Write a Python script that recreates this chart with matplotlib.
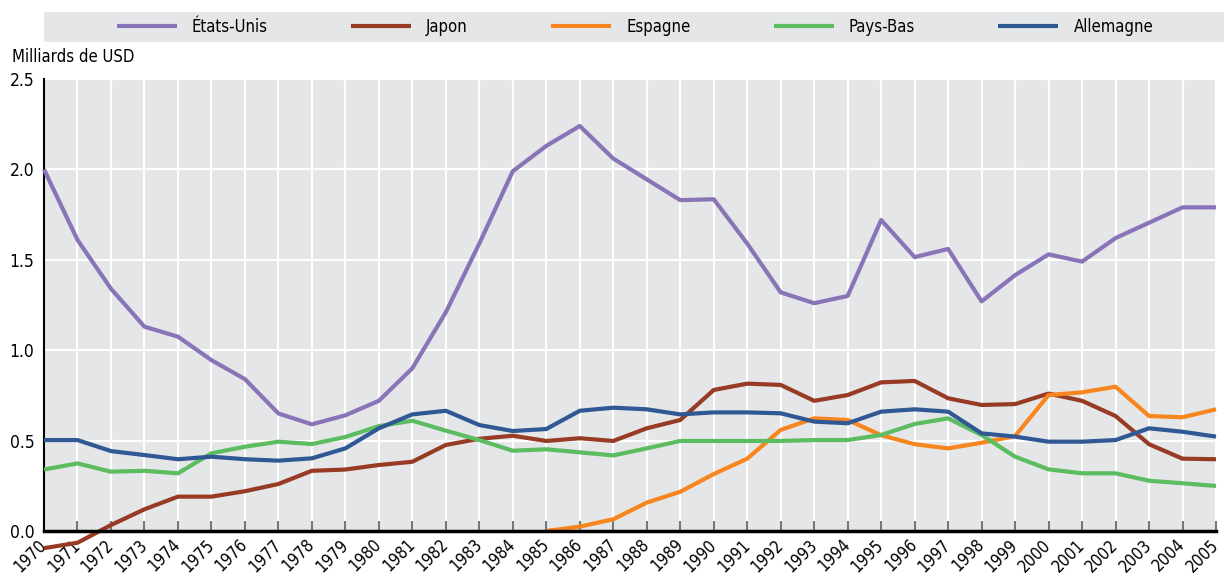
import matplotlib
matplotlib.use('Agg')
import matplotlib.pyplot as plt
from matplotlib.patches import Rectangle
from matplotlib import font_manager
from matplotlib.transforms import ScaledTranslation

# police étroite si disponible
prop = font_manager.FontProperties(family='DejaVu Sans', stretch='condensed')
path = font_manager.findfont(prop, fallback_to_default=True)
if 'Condensed' in path:
    plt.rcParams['font.family'] = ['DejaVu Sans']
    plt.rcParams['font.stretch'] = 'condensed'
else:
    plt.rcParams['font.family'] = ['Liberation Sans', 'DejaVu Sans']

years = list(range(1970, 2006))

usa = [2.00, 1.61, 1.34, 1.13, 1.075, 0.945, 0.84, 0.65, 0.59, 0.64,
       0.72, 0.90, 1.21, 1.59, 1.99, 2.13, 2.24, 2.06, 1.945, 1.83,
       1.835, 1.59, 1.32, 1.26, 1.30, 1.72, 1.515, 1.56, 1.27, 1.415,
       1.53, 1.49, 1.62, 1.705, 1.79, 1.79]
japon = [-0.095, -0.065, 0.033, 0.12, 0.19, 0.19, 0.22, 0.26, 0.333, 0.34,
         0.365, 0.383, 0.476, 0.51, 0.527, 0.498, 0.513, 0.498, 0.568, 0.614,
         0.78, 0.815, 0.808, 0.72, 0.752, 0.822, 0.83, 0.734, 0.697, 0.702,
         0.76, 0.72, 0.636, 0.48, 0.40, 0.397]
# Espagne commence en 1985
espagne_years = list(range(1985, 2006))
espagne = [0.0, 0.024, 0.065, 0.157, 0.217, 0.315, 0.40, 0.559, 0.623, 0.614,
           0.53, 0.48, 0.457, 0.488, 0.525, 0.752, 0.767, 0.798, 0.636, 0.629,
           0.673]
paysbas = [0.34, 0.374, 0.328, 0.333, 0.319, 0.43, 0.466, 0.494, 0.481, 0.52,
           0.58, 0.61, 0.555, 0.503, 0.444, 0.452, 0.435, 0.418, 0.457, 0.498,
           0.498, 0.498, 0.498, 0.503, 0.503, 0.531, 0.592, 0.623, 0.531, 0.411,
           0.341, 0.319, 0.319, 0.278, 0.264, 0.249]
allemagne = [0.503, 0.503, 0.442, 0.42, 0.397, 0.411, 0.397, 0.389, 0.402, 0.457,
             0.568, 0.645, 0.665, 0.586, 0.553, 0.564, 0.665, 0.682, 0.673, 0.645,
             0.656, 0.656, 0.651, 0.605, 0.596, 0.66, 0.673, 0.66, 0.54, 0.522,
             0.494, 0.494, 0.503, 0.568, 0.549, 0.522]

series = [
    ('États-Unis', years, usa, '#8A74B8'),
    ('Japon', years, japon, '#983B24'),
    ('Espagne', espagne_years, espagne, '#F7861E'),
    ('Pays-Bas', years, paysbas, '#5BBD5F'),
    ('Allemagne', years, allemagne, '#2F5895'),
]

bg = '#E5E6E8'
fig = plt.figure(figsize=(12.24, 5.76), dpi=100)
ax = fig.add_axes([44/1224, 1-531/576, (1216-44)/1224, (531-79)/576])
ax.set_facecolor(bg)

for name, xs, ys, c in series:
    ax.plot(xs, ys, color=c, lw=3, label=name, clip_on=False, zorder=3,
            solid_capstyle='butt')

ax.set_xlim(1970, 2005)
ax.set_ylim(0, 2.5)
ax.set_xticks(years)
ax.set_xticklabels([str(y) for y in years], rotation=45, ha='right',
                   va='center', rotation_mode='anchor', fontsize=12)
shift = ScaledTranslation(-4/100, 0, fig.dpi_scale_trans)
for lab in ax.get_xticklabels():
    lab.set_transform(lab.get_transform() + shift)
ax.set_yticks([0, 0.5, 1.0, 1.5, 2.0, 2.5])
ax.set_yticklabels(['0.0', '0.5', '1.0', '1.5', '2.0', '2.5'], fontsize=12.5)
ax.grid(True, color='white', lw=1.5, zorder=1)
ax.set_axisbelow(True)
ax.tick_params(axis='x', direction='in', length=7, width=1.5, color='#777777',
               pad=8)
ax.tick_params(axis='y', length=0, pad=7)
for s in ['top', 'right']:
    ax.spines[s].set_visible(False)
ax.spines['bottom'].set_linewidth(2.5)
ax.spines['bottom'].set_zorder(4)
ax.spines['left'].set_linewidth(1.5)

fig.text(12/1224, 1-57/576, 'Milliards de USD', fontsize=12, va='center',
         ha='left')

# bandeau gris de la légende
fig.add_artist(Rectangle((44/1224, 1-42/576), (1224-44)/1224, 30/576,
                         transform=fig.transFigure, facecolor=bg,
                         edgecolor='none', zorder=0))
fig.legend(loc='center', bbox_to_anchor=(635/1224, 1-27/576), ncol=5,
           frameon=False, fontsize=12, handlelength=3.6, handletextpad=0.9,
           columnspacing=5.0)

fig.savefig('out.png', dpi=100, facecolor='white')
